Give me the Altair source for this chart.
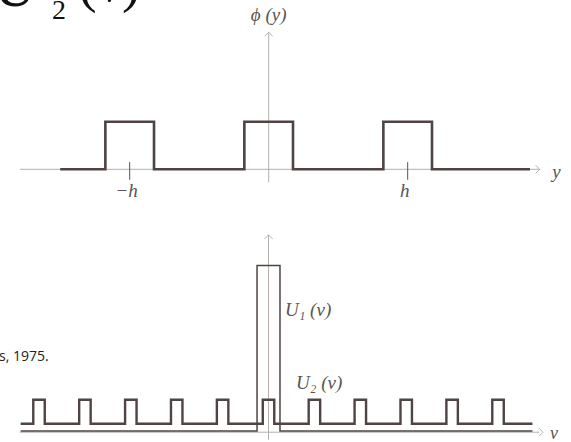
import altair as alt
import pandas as pd

# ---- phi(y): three rectangular pulses at -h, 0, h (units of h) ----
phi_y = [-1.50, -1.175, -1.175, -0.825, -0.825, -0.175, -0.175, 0.175, 0.175,
         0.825, 0.825, 1.175, 1.175, 1.88]
phi_val = [0, 0, 1, 1, 0, 0, 1, 1, 0, 0, 1, 1, 0, 0]
h_ticks = [-1.0, 1.0]
h_labels = ["\u2212h", "h"]

# ---- U1(v): single tall narrow spike at the origin ----
u1_v = [-5.4, -0.25, -0.25, 0.25, 0.25, 5.75]
u1_val = [0, 0, 6.9, 6.9, 0, 0]

# ---- U2(v): comb of narrow pulses (raised slightly above the axis) ----
u2_centers = [-5, -4, -3, -2, -1, 0, 1, 2, 3, 4, 5]
u2_half = 0.125
u2_low, u2_high = 0.3, 1.3
u2_left, u2_right = -5.4, 5.75

LINE = "#4f4343"
AXIS = "#b4b0ae"
TEXT = "#5a5452"
SERIF = "Liberation Serif"
W = 571
H_TOP, H_BOT = 210, 232

# step outline for U2
u2_v, u2_val = [u2_left], [u2_low]
for c in u2_centers:
    u2_v += [c - u2_half, c - u2_half, c + u2_half, c + u2_half]
    u2_val += [u2_low, u2_high, u2_high, u2_low]
u2_v.append(u2_right)
u2_val.append(u2_low)

phi_df = pd.DataFrame({"y": phi_y, "phi": phi_val, "i": range(len(phi_y))})
u1_df = pd.DataFrame({"v": u1_v, "u": u1_val, "i": range(len(u1_v))})
u2_df = pd.DataFrame({"v": u2_v, "u": u2_val, "i": range(len(u2_v))})

# ---------------- top panel ----------------
xs_top = alt.Scale(domain=[-1.933, 2.175], nice=False, zero=False)
ys_top = alt.Scale(domain=[-0.855, 3.557], nice=False, zero=False)

def X(field):
    return alt.X(field, type="quantitative", scale=xs_top, axis=None)

def Y(field):
    return alt.Y(field, type="quantitative", scale=ys_top, axis=None)

axis_h = alt.Chart(pd.DataFrame({"x1": [-1.79], "x2": [1.95], "y": [0.0]})).mark_rule(
    color=AXIS, strokeWidth=1).encode(x=X("x1"), x2="x2", y=Y("y"))
axis_v = alt.Chart(pd.DataFrame({"x": [0.0], "y1": [-0.27], "y2": [2.88]})).mark_rule(
    color=AXIS, strokeWidth=1).encode(x=X("x"), y=Y("y1"), y2="y2")
arrow_r = alt.Chart(pd.DataFrame({"x": [1.95], "y": [0.0]})).mark_point(
    shape="M-1,-1L0,0L-1,1", filled=False, size=64, color=AXIS, strokeWidth=1, opacity=1
).encode(x=X("x"), y=Y("y"))
arrow_u = alt.Chart(pd.DataFrame({"x": [0.0], "y": [2.88]})).mark_point(
    shape="M-1,1L0,0L1,1", filled=False, size=64, color=AXIS, strokeWidth=1, opacity=1
).encode(x=X("x"), y=Y("y"))

ticks = alt.Chart(pd.DataFrame({"x": h_ticks, "y1": [0.15, 0.15], "y2": [-0.22, -0.22],
                                "lab": h_labels, "ly": [-0.46, -0.46]}))
tick_marks = ticks.mark_rule(color=TEXT, strokeWidth=1).encode(x=X("x"), y=Y("y1"), y2="y2")
tick_text = ticks.mark_text(font=SERIF, fontStyle="italic", fontSize=19, color=TEXT,
                            dx=-3).encode(x=X("x"), y=Y("ly"), text="lab:N")

phi_line = alt.Chart(phi_df).mark_line(color=LINE, strokeWidth=2.6).encode(
    x=X("y"), y=Y("phi"), order="i:Q")

top_text = alt.Chart(pd.DataFrame({"x": [0.0, 2.07], "y": [3.24, -0.05],
                                   "t": ["\u03d5 (y)", "y"]})).mark_text(
    font=SERIF, fontStyle="italic", fontSize=19, color=TEXT).encode(
    x=X("x"), y=Y("y"), text="t:N")

# partly visible heading along the upper edge (clipped by the view)
head_U = alt.Chart(pd.DataFrame({"t": ["U"]})).mark_text(
    font=SERIF, fontSize=58, color="#111", align="right", baseline="alphabetic",
    clip=True).encode(x=alt.value(36), y=alt.value(6), text="t:N")
head_2 = alt.Chart(pd.DataFrame({"t": ["2"]})).mark_text(
    font=SERIF, fontSize=28, color="#111", align="left", baseline="alphabetic",
    clip=True).encode(x=alt.value(52), y=alt.value(19), text="t:N")
head_v = alt.Chart(pd.DataFrame({"t": ["(\u03bd)"]})).mark_text(
    font=SERIF, fontSize=56, color="#111", align="left", baseline="alphabetic",
    clip=True).encode(x=alt.value(78), y=alt.value(1), text="t:N")

top = alt.layer(axis_h, axis_v, arrow_r, arrow_u, phi_line, tick_marks, tick_text,
                top_text, head_U, head_2, head_v).properties(width=W, height=H_TOP)

# ---------------- bottom panel ----------------
xs_bot = alt.Scale(domain=[-5.850, 6.590], nice=False, zero=False)
ys_bot = alt.Scale(domain=[-0.458, 9.208], nice=False, zero=False)

def XB(field):
    return alt.X(field, type="quantitative", scale=xs_bot, axis=None)

def YB(field):
    return alt.Y(field, type="quantitative", scale=ys_bot, axis=None)

baxis_h = alt.Chart(pd.DataFrame({"x1": [-5.42], "x2": [5.90], "y": [-0.05]})).mark_rule(
    color=AXIS, strokeWidth=1).encode(x=XB("x1"), x2="x2", y=YB("y"))
baxis_v = alt.Chart(pd.DataFrame({"x": [0.0], "y1": [-0.37], "y2": [8.17]})).mark_rule(
    color=AXIS, strokeWidth=1).encode(x=XB("x"), y=YB("y1"), y2="y2")
barrow_r = alt.Chart(pd.DataFrame({"x": [5.98], "y": [-0.05]})).mark_point(
    shape="M-1,-1L0,0L-1,1", filled=False, size=64, color=AXIS, strokeWidth=1, opacity=1
).encode(x=XB("x"), y=YB("y"))
barrow_u = alt.Chart(pd.DataFrame({"x": [0.0], "y": [8.17]})).mark_point(
    shape="M-1,1L0,0L1,1", filled=False, size=64, color=AXIS, strokeWidth=1, opacity=1
).encode(x=XB("x"), y=YB("y"))

u1_line = alt.Chart(u1_df).mark_line(color=LINE, strokeWidth=1.5).encode(
    x=XB("v"), y=YB("u"), order="i:Q")
u2_line = alt.Chart(u2_df).mark_line(color=LINE, strokeWidth=2.4).encode(
    x=XB("v"), y=YB("u"), order="i:Q")

blabels = alt.Chart(pd.DataFrame({"x": [0.36, 0.60], "y": [5.05, 2.0],
                                  "t": ["U\u2081 (\u03bd)", "U\u2082 (\u03bd)"]})).mark_text(
    font=SERIF, fontStyle="italic", fontSize=19, color=TEXT, align="left").encode(
    x=XB("x"), y=YB("y"), text="t:N")
vlabel = alt.Chart(pd.DataFrame({"x": [6.22], "y": [-0.12], "t": ["v"]})).mark_text(
    font=SERIF, fontStyle="italic", fontSize=18, color=TEXT, align="center",
    clip=True).encode(x=XB("x"), y=YB("y"), text="t:N")

caption = alt.Chart(pd.DataFrame({"t": ["s, 1975."]})).mark_text(
    font="Open Sans", fontSize=14, color="#222", align="left", clip=True).encode(
    x=alt.value(-1), y=alt.value(147), text="t:N")

bottom = alt.layer(baxis_h, baxis_v, barrow_r, barrow_u, u1_line, u2_line, blabels,
                   vlabel, caption).properties(width=W, height=H_BOT)

chart = alt.vconcat(top, bottom, spacing=0, padding=0, background="white").configure_view(
    stroke=None)

chart.save("out.html", embed_options={"renderer": "svg", "actions": False})
